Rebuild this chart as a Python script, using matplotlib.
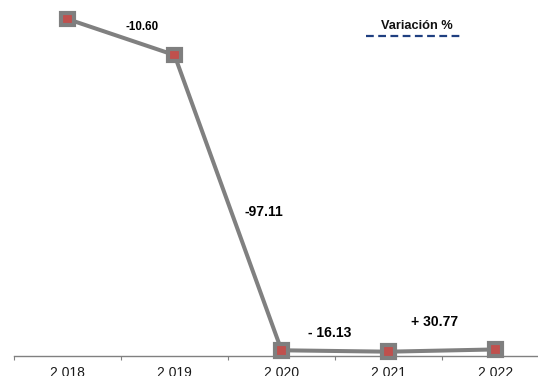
import matplotlib
matplotlib.use("Agg")
import matplotlib.pyplot as plt
from matplotlib.lines import Line2D
import matplotlib.patheffects as pe

years = ["2 018", "2 019", "2 020", "2 021", "2 022"]
values = [100.0, 89.4, 2.58, 2.17, 2.83]
var_labels = ["-10.60", "-97.11", "- 16.13", "+ 30.77"]
legend_label = "Variación %"

W, H = 538, 376
fig = plt.figure(figsize=(W / 100, H / 100), dpi=100)
plt.rcParams['font.family'] = ['Liberation Sans', 'DejaVu Sans']

def fx(px):
    return px / W

def fy(py):
    return 1 - py / H

ax = fig.add_axes([fx(14), 20 / H, 535 / W, 356 / H])
x = list(range(len(years)))
ax.plot(x, values, color="#808080", lw=2.9, zorder=3, clip_on=False,
        solid_joinstyle="round")
ax.plot(x, values, ls="none", marker="s", markersize=9.2,
        markerfacecolor="#c0504d", markeredgecolor="#7f7f7f", markeredgewidth=3.0,
        zorder=4, clip_on=False,
        path_effects=[pe.SimplePatchShadow(offset=(0.8, -0.8), alpha=0.25, shadow_rgbFace="#555555"),
                      pe.Normal()])
ax.set_xlim(-0.5, len(years) - 0.5)
ax.set_ylim(0.9, 105.6)
ax.set_xticks(x)
ax.set_xticklabels(years, fontsize=10, color="#1a1a1a")
ax.tick_params(axis="x", which="major", length=0, pad=7.5)
ax.set_xticks([i - 0.5 for i in range(len(years) + 1)], minor=True)
ax.tick_params(axis="x", which="minor", length=3, width=0.8, color="#808080", direction="out")
ax.set_yticks([])
for s in ["top", "right", "left"]:
    ax.spines[s].set_visible(False)
ax.spines["bottom"].set_color("#808080")
ax.spines["bottom"].set_linewidth(1)

label_pos = [(142, 27, 8.3), (264, 212, 10), (330, 333, 10), (435, 322, 10)]
for txt, (px, py, fs) in zip(var_labels, label_pos):
    fig.text(fx(px), fy(py), txt, ha="center", va="center", fontsize=fs,
             fontweight="bold", color="#000000")

fig.text(fx(417), fy(26), legend_label, ha="center", va="center", fontsize=9.2,
         fontweight="bold", color="#111111")
fig.add_artist(Line2D([fx(366), fx(461)], [fy(36), fy(36)], color="#1f3f80",
                      lw=1.6, dashes=(3.5, 2)))

fig.savefig("out.png", dpi=100)
